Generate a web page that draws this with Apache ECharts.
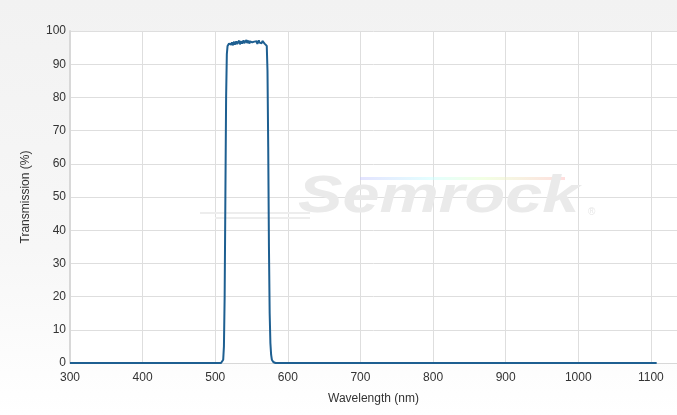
<!DOCTYPE html>
<html><head><meta charset="utf-8">
<script src="https://cdn.jsdelivr.net/npm/echarts@6/dist/echarts.min.js"></script>
<style>
html,body{margin:0;padding:0;width:677px;height:415px;overflow:hidden;background:linear-gradient(180deg,#f2f2f2 0%,#f7f7f7 60%,#ffffff 100%);}
#c{width:677px;height:415px;}
</style></head>
<body><div id="c"></div>
<script>
const wavelengths = [300,400,500,505,508,510,511,512,513,514,515,516,517,518,519,520,521,522,523,524,525,526,527,528,529,530,531,532,533,534,535,536,537,538,539,540,541,542,543,544,545,546,547,548,549,550,551,552,553,554,555,556,557,558,559,560,561,562,563,564,565,566,567,568,569,570,571,572,573,574,575,576,577,578,580,583,600,700,800,900,1000,1108];
const transmission = [0,0,0,0,0,0.2,1,5,20,50,80,93,95.5,95.0,96.2,95.6,96.5,95.9,96.6,95.7,96.3,96.8,95.9,96.4,96.9,96.1,96.7,96.2,97.1,96.0,96.6,96.9,96.2,96.8,97.2,96.3,96.9,96.5,97.3,96.4,96.8,97.1,96.2,96.9,96.5,97.2,96.6,97.0,96.3,96.8,97.3,96.4,96.9,96.1,96.7,97.2,96.5,96.0,96.8,96.3,97.0,96.6,96.9,96.2,96.7,96.5,95.5,88,65,35,15,6,2.5,1,0.3,0,0,0,0,0,0,0];
const xTicks = [300,400,500,600,700,800,900,1000,1100];
const yTicks = [0,10,20,30,40,50,60,70,80,90,100];

const chart = echarts.init(document.getElementById('c'), null, {renderer:'canvas'});
const pts = wavelengths.map((w,i)=>[w,transmission[i]]);
chart.setOption({
  animation:false,
  backgroundColor:'transparent',
  textStyle:{fontFamily:'Liberation Sans, Arial, sans-serif'},
  grid:{left:70,right:0,top:31,bottom:52,show:true,backgroundColor:'#ffffff',borderWidth:0},
  graphic:[
    {type:'rect',z:1,left:200,top:212,shape:{width:110,height:2},style:{fill:'#ededed'}},
    {type:'rect',z:1,left:215,top:217,shape:{width:95,height:2},style:{fill:'#ededed'}},
    {type:'rect',z:1,left:360,top:177,shape:{width:205,height:3},style:{fill:new echarts.graphic.LinearGradient(0,0,1,0,[{offset:0,color:'rgba(200,200,255,0.5)'},{offset:0.35,color:'rgba(200,255,255,0.5)'},{offset:0.6,color:'rgba(230,255,200,0.5)'},{offset:1,color:'rgba(255,200,200,0.6)'}])}},
    {type:'text',z:1,x:298,y:172,scaleX:1.28,style:{text:'Semrock',font:'italic bold 52px "Liberation Sans", Arial, sans-serif',fill:'#eaeaea'}},
    {type:'text',z:1,left:588,top:207,style:{text:'®',font:'10px "Liberation Sans", Arial',fill:'#e6e6e6'}}
  ],
  xAxis:{type:'value',min:300,max:1136,interval:100,
    name:'Wavelength (nm)',nameLocation:'middle',nameGap:30,
    nameTextStyle:{color:'#333',fontSize:12},
    axisLine:{show:true,lineStyle:{color:'#d8d8d8',width:1}},
    axisTick:{show:false},
    axisLabel:{color:'#333',fontSize:12,margin:9,showMaxLabel:false,
      formatter:v=>xTicks.includes(v)?String(v):''},
    splitLine:{show:true,lineStyle:{color:'#dedede',width:1}}
  },
  yAxis:{type:'value',min:0,max:100,interval:10,
    name:'Transmission (%)',nameLocation:'middle',nameGap:38,
    nameTextStyle:{color:'#333',fontSize:12},
    axisLine:{show:true,lineStyle:{color:'#d8d8d8',width:2}},
    axisTick:{show:false},
    axisLabel:{color:'#333',fontSize:12,margin:4,formatter:v=>yTicks.includes(v)?String(v):''},
    splitLine:{show:true,lineStyle:{color:'#dedede',width:1}}
  },
  series:[{type:'line',data:pts,showSymbol:false,z:5,
    lineStyle:{color:'#1e5f91',width:2},smooth:false}]
});
</script></body></html>
